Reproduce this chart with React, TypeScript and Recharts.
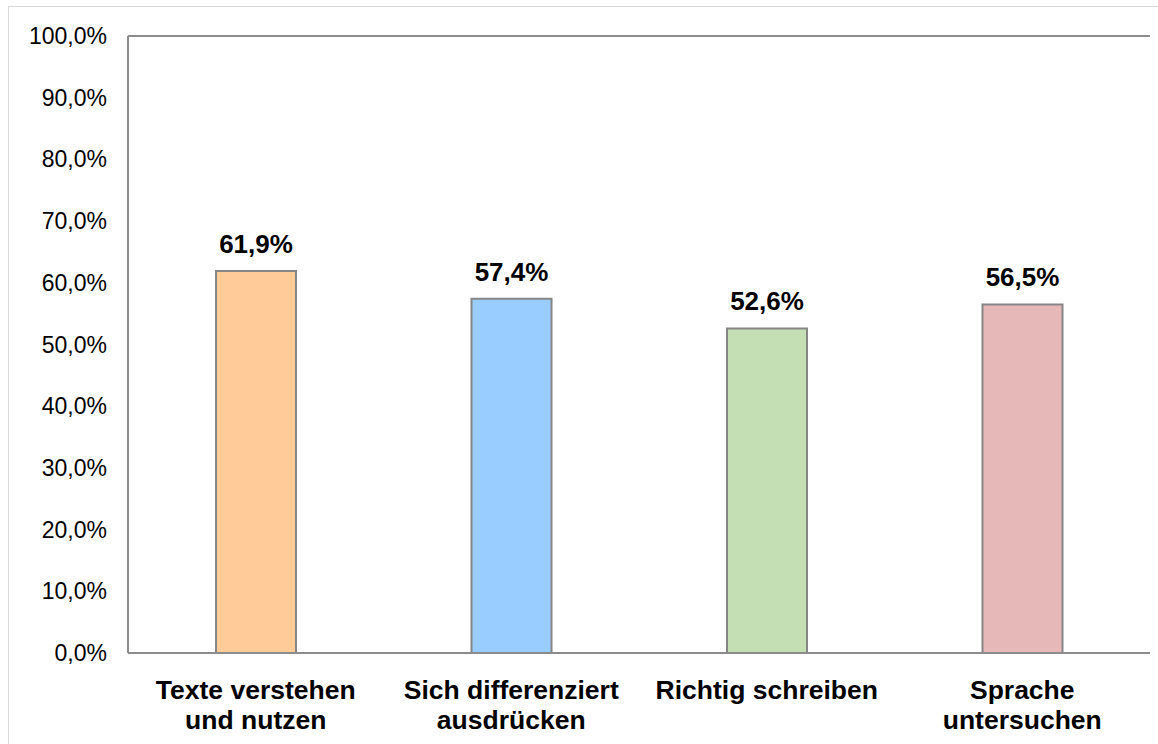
import React from 'react';
import { BarChart, Bar, XAxis, YAxis, CartesianGrid, Cell, LabelList } from 'recharts';

const categories = [
  ['Texte verstehen', 'und nutzen'],
  ['Sich differenziert', 'ausdrücken'],
  ['Richtig schreiben'],
  ['Sprache', 'untersuchen'],
];
const values = [61.9, 57.4, 52.6, 56.5];
const barColors = ['#FFCC99', '#99CCFF', '#C4DFB3', '#E6B8B7'];
const yTicks = [0, 10, 20, 30, 40, 50, 60, 70, 80, 90, 100];

const data = categories.map((c, i) => ({ name: c.join(' '), idx: i, value: values[i] }));

const FONT = '"Liberation Sans", Arial, sans-serif';
const fmt = (v: number) => v.toFixed(1).replace('.', ',') + '%';

const XTick = (props: any) => {
  const { x, y, payload } = props;
  const lines = categories[payload.index] || [payload.value];
  return (
    <text x={x} y={y} textAnchor="middle" fontFamily={FONT} fontSize={26.5} fontWeight="bold" fill="#000">
      {lines.map((l, i) => (
        <tspan key={i} x={x} dy={i === 0 ? 44 : 30}>{l}</tspan>
      ))}
    </text>
  );
};

const YTick = (props: any) => {
  const { y, payload } = props;
  return (
    <text x={107} y={y} dy={8} textAnchor="end" fontFamily={FONT} fontSize={23} fill="#000">
      {fmt(payload.value)}
    </text>
  );
};

const TopLabel = (props: any) => {
  const { x, y, width, value } = props;
  return (
    <text x={x + width / 2} y={y - 18} textAnchor="middle" fontFamily={FONT} fontSize={26} fontWeight="bold" fill="#000">
      {fmt(value)}
    </text>
  );
};

export default function App() {
  return (
    <div style={{ position: 'absolute', left: 0, top: 0, width: 1158, height: 744, background: '#fff' }}>
      <div style={{ position: 'absolute', left: 8, top: 6, width: 1160, height: 740, border: '1px solid #d9d9d9', boxSizing: 'border-box' }} />
      <div style={{ position: 'absolute', left: 0, top: 0 }}>
        <BarChart width={1158} height={744} data={data} margin={{ top: 36, right: 8, bottom: 0, left: 8 }} barSize={80}>
          <CartesianGrid vertical={false} stroke="#8c8c8c" strokeWidth={2} />
          <XAxis dataKey="name" tick={<XTick />} tickLine={false} axisLine={{ stroke: '#8c8c8c', strokeWidth: 2 }} interval={0} tickSize={0} height={91} />
          <YAxis yAxisId="l" domain={[0, 100]} ticks={yTicks} tick={<YTick />} tickLine={false} axisLine={{ stroke: '#8c8c8c', strokeWidth: 2 }} width={120} interval={0} />
          <YAxis yAxisId="r" orientation="right" domain={[0, 100]} ticks={yTicks} tick={false} tickLine={false} axisLine={{ stroke: '#8c8c8c', strokeWidth: 2 }} width={0} />
          <Bar yAxisId="l" dataKey="value" isAnimationActive={false} stroke="#868686" strokeWidth={2}>
            {data.map((d, i) => (
              <Cell key={i} fill={barColors[i]} />
            ))}
            <LabelList dataKey="value" content={<TopLabel />} />
          </Bar>
        </BarChart>
      </div>
    </div>
  );
}
